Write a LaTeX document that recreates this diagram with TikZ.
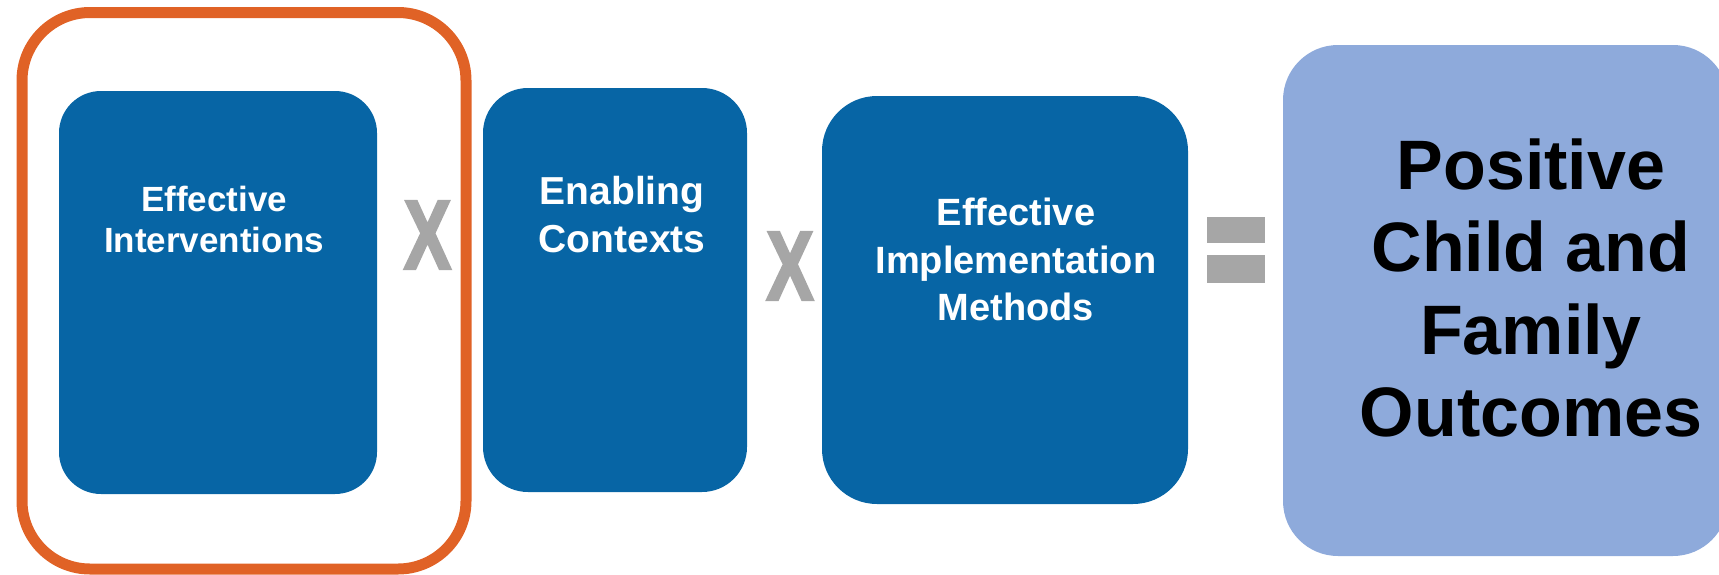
\documentclass[tikz,border=0pt]{standalone}
\usepackage{fontspec}
\setmainfont{Liberation Sans}
\newfontfamily\signfont[BoldFeatures={FakeBold=3}]{Liberation Sans}
\usepackage{graphicx}
\usetikzlibrary{positioning}
\definecolor{ebpblue}{HTML}{0765A5}
\definecolor{outcomeblue}{HTML}{8EAADB}
\definecolor{frameorange}{HTML}{E06226}
\definecolor{signgray}{HTML}{A6A6A6}

\begin{document}
\begin{tikzpicture}[x=0.5pt,y=-0.5pt,node distance=195pt,on grid,
		blockbox/.style={rectangle,fill=ebpblue,draw=none,inner sep=0pt},
		outcomebox/.style={rectangle,fill=outcomeblue,draw=none,inner sep=0pt},
		blocklabel/.style={text=white,align=center,inner sep=0pt},
		outcomelabel/.style={text=black,align=center,inner sep=0pt,font={\fontsize{35pt}{41.2pt}\selectfont\bfseries}},
		opsign/.style={text=signgray,inner sep=0pt,font={\fontsize{49pt}{49pt}\selectfont\signfont\bfseries}},
		focusframe/.style={draw=frameorange,line width=5.5pt,rounded corners=34pt}]
		\useasboundingbox (0,0) rectangle (1719,574);
		
		\node[blockbox,minimum width=159pt,minimum height=201.5pt,rounded corners=21pt]   (interv) at (218,292.5) {};
		\node[blockbox,minimum width=132pt,minimum height=202pt,rounded corners=22.5pt]   (enabl) [right=of interv,xshift=3.5pt,yshift=1.25pt] {};
		\node[blockbox,minimum width=183pt,minimum height=204pt,rounded corners=27.5pt]   (implm) [right=of enabl,yshift=-5pt] {};
		\node[outcomebox,minimum width=222.5pt,minimum height=255.5pt,rounded corners=27.5pt] (outc) [right=of implm,xshift=55.25pt,yshift=-0.25pt] {};
		
		\node[blocklabel,font={\fontsize{17.5pt}{20.8pt}\selectfont\bfseries}]  (interv-txt) [below=64.5pt of interv.north,xshift=-2pt,anchor=center] {Effective\\Interventions};
		\node[blocklabel,font={\fontsize{19.5pt}{24pt}\selectfont\bfseries}]    (enabl-txt)  [below=63.7pt of enabl.north,xshift=3.5pt,anchor=center] {Enabling\\Contexts};
		\node[blocklabel,font={\fontsize{19pt}{23.75pt}\selectfont\bfseries}]   (implm-txt)  [below=82pt of implm.north,xshift=5.5pt,anchor=center] {Effective\\Implementation\\Methods};
		\node[outcomelabel] (outc-txt) [below=121.7pt of outc.north,xshift=12.75pt,anchor=center] {Positive\\Child and\\Family\\Outcomes};
		
		% multiply and equals signs
		\node[opsign] (times1) at (427.5,235) {\scalebox{0.72}[1]{X}};
		\node[opsign] (times2) at (790,266)   {\scalebox{0.72}[1]{X}};
		\fill[signgray] (1207,217) rectangle (1265,243);
		\fill[signgray] (1207,255) rectangle (1265,283);
		
		\draw[focusframe] (22,12.5) rectangle (466,569);
		\end{tikzpicture}
\end{document}
